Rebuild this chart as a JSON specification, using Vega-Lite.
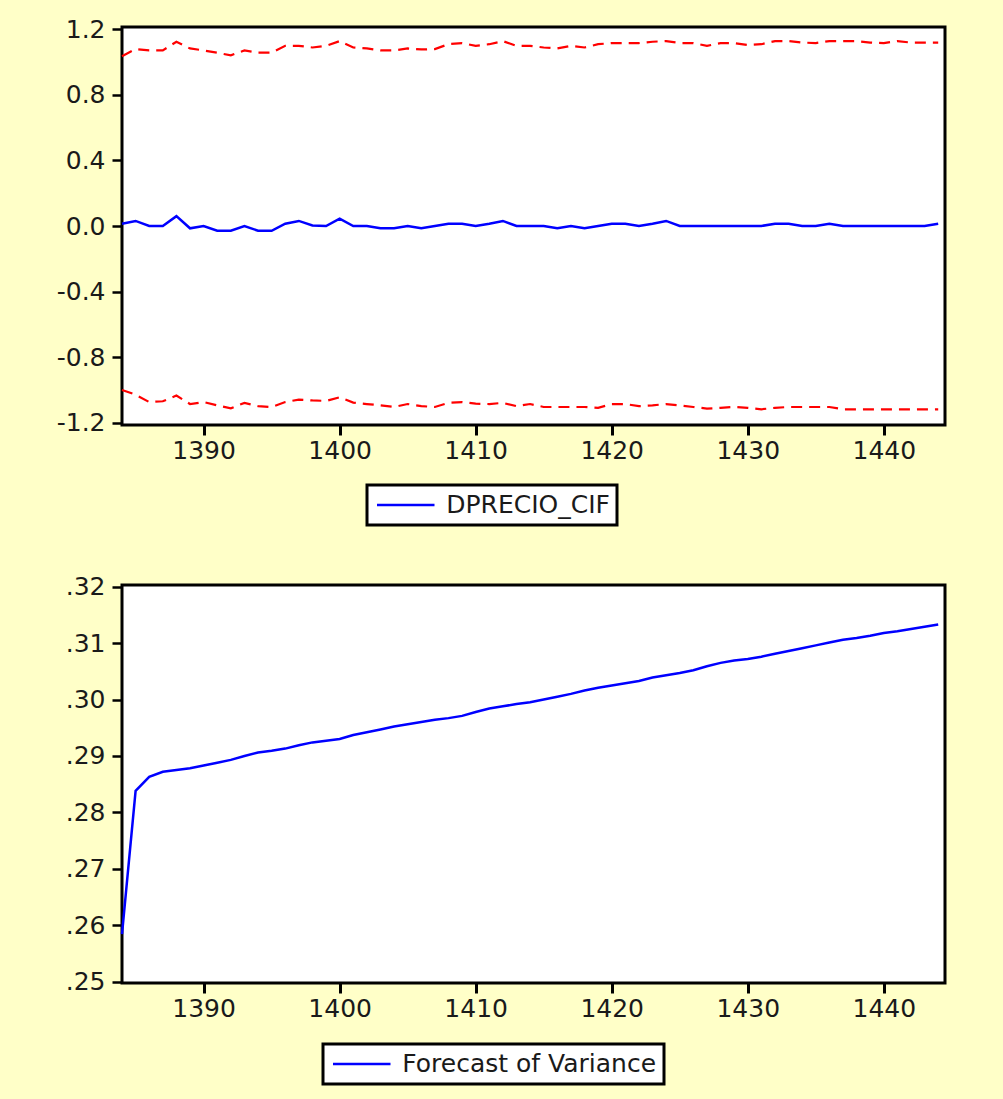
{
  "$schema": "https://vega.github.io/schema/vega-lite/v6.json",
  "background": "#FFFFC8",
  "padding": {"left": 54, "top": 15, "right": 58, "bottom": 13},
  "autosize": {"type": "pad"},
  "datasets": {
    "top": [
      {"year": 1384, "dprecio": 0.014, "upper": 1.037, "lower": -1.001},
      {"year": 1385, "dprecio": 0.031, "upper": 1.080, "lower": -1.030},
      {"year": 1386, "dprecio": 0.0, "upper": 1.072, "lower": -1.075},
      {"year": 1387, "dprecio": 0.0, "upper": 1.072, "lower": -1.070},
      {"year": 1388, "dprecio": 0.060, "upper": 1.125, "lower": -1.035},
      {"year": 1389, "dprecio": -0.014, "upper": 1.084, "lower": -1.087},
      {"year": 1390, "dprecio": 0.0, "upper": 1.072, "lower": -1.075},
      {"year": 1391, "dprecio": -0.029, "upper": 1.058, "lower": -1.095},
      {"year": 1392, "dprecio": -0.029, "upper": 1.042, "lower": -1.113},
      {"year": 1393, "dprecio": 0.0, "upper": 1.072, "lower": -1.080},
      {"year": 1394, "dprecio": -0.029, "upper": 1.058, "lower": -1.100},
      {"year": 1395, "dprecio": -0.029, "upper": 1.058, "lower": -1.105},
      {"year": 1396, "dprecio": 0.014, "upper": 1.100, "lower": -1.075},
      {"year": 1397, "dprecio": 0.031, "upper": 1.100, "lower": -1.060},
      {"year": 1398, "dprecio": 0.003, "upper": 1.090, "lower": -1.065},
      {"year": 1399, "dprecio": 0.0, "upper": 1.100, "lower": -1.068},
      {"year": 1400, "dprecio": 0.045, "upper": 1.129, "lower": -1.046},
      {"year": 1401, "dprecio": 0.0, "upper": 1.090, "lower": -1.078},
      {"year": 1402, "dprecio": 0.0, "upper": 1.084, "lower": -1.087},
      {"year": 1403, "dprecio": -0.014, "upper": 1.072, "lower": -1.095},
      {"year": 1404, "dprecio": -0.014, "upper": 1.072, "lower": -1.105},
      {"year": 1405, "dprecio": 0.0, "upper": 1.084, "lower": -1.087},
      {"year": 1406, "dprecio": -0.014, "upper": 1.078, "lower": -1.100},
      {"year": 1407, "dprecio": 0.0, "upper": 1.080, "lower": -1.105},
      {"year": 1408, "dprecio": 0.014, "upper": 1.110, "lower": -1.080},
      {"year": 1409, "dprecio": 0.014, "upper": 1.117, "lower": -1.075},
      {"year": 1410, "dprecio": 0.0, "upper": 1.100, "lower": -1.085},
      {"year": 1411, "dprecio": 0.014, "upper": 1.110, "lower": -1.087},
      {"year": 1412, "dprecio": 0.031, "upper": 1.129, "lower": -1.080},
      {"year": 1413, "dprecio": 0.0, "upper": 1.100, "lower": -1.100},
      {"year": 1414, "dprecio": 0.0, "upper": 1.100, "lower": -1.087},
      {"year": 1415, "dprecio": 0.0, "upper": 1.090, "lower": -1.105},
      {"year": 1416, "dprecio": -0.014, "upper": 1.084, "lower": -1.105},
      {"year": 1417, "dprecio": 0.0, "upper": 1.100, "lower": -1.105},
      {"year": 1418, "dprecio": -0.014, "upper": 1.090, "lower": -1.105},
      {"year": 1419, "dprecio": 0.0, "upper": 1.110, "lower": -1.110},
      {"year": 1420, "dprecio": 0.014, "upper": 1.117, "lower": -1.087},
      {"year": 1421, "dprecio": 0.014, "upper": 1.117, "lower": -1.087},
      {"year": 1422, "dprecio": 0.0, "upper": 1.117, "lower": -1.100},
      {"year": 1423, "dprecio": 0.014, "upper": 1.125, "lower": -1.095},
      {"year": 1424, "dprecio": 0.031, "upper": 1.129, "lower": -1.087},
      {"year": 1425, "dprecio": 0.0, "upper": 1.117, "lower": -1.095},
      {"year": 1426, "dprecio": 0.0, "upper": 1.117, "lower": -1.105},
      {"year": 1427, "dprecio": 0.0, "upper": 1.100, "lower": -1.115},
      {"year": 1428, "dprecio": 0.0, "upper": 1.117, "lower": -1.110},
      {"year": 1429, "dprecio": 0.0, "upper": 1.117, "lower": -1.105},
      {"year": 1430, "dprecio": 0.0, "upper": 1.105, "lower": -1.110},
      {"year": 1431, "dprecio": 0.0, "upper": 1.110, "lower": -1.119},
      {"year": 1432, "dprecio": 0.014, "upper": 1.129, "lower": -1.110},
      {"year": 1433, "dprecio": 0.014, "upper": 1.129, "lower": -1.105},
      {"year": 1434, "dprecio": 0.0, "upper": 1.120, "lower": -1.105},
      {"year": 1435, "dprecio": 0.0, "upper": 1.117, "lower": -1.105},
      {"year": 1436, "dprecio": 0.014, "upper": 1.129, "lower": -1.105},
      {"year": 1437, "dprecio": 0.0, "upper": 1.129, "lower": -1.119},
      {"year": 1438, "dprecio": 0.0, "upper": 1.129, "lower": -1.119},
      {"year": 1439, "dprecio": 0.0, "upper": 1.120, "lower": -1.119},
      {"year": 1440, "dprecio": 0.0, "upper": 1.117, "lower": -1.119},
      {"year": 1441, "dprecio": 0.0, "upper": 1.129, "lower": -1.119},
      {"year": 1442, "dprecio": 0.0, "upper": 1.120, "lower": -1.119},
      {"year": 1443, "dprecio": 0.0, "upper": 1.120, "lower": -1.119},
      {"year": 1444, "dprecio": 0.014, "upper": 1.120, "lower": -1.119}
    ],
    "variance": [
      {"year": 1384, "variance": 0.2584},
      {"year": 1385, "variance": 0.2838},
      {"year": 1386, "variance": 0.2863},
      {"year": 1387, "variance": 0.2872},
      {"year": 1388, "variance": 0.2875},
      {"year": 1389, "variance": 0.2878},
      {"year": 1390, "variance": 0.2883},
      {"year": 1391, "variance": 0.2888},
      {"year": 1392, "variance": 0.2893},
      {"year": 1393, "variance": 0.2900},
      {"year": 1394, "variance": 0.2906},
      {"year": 1395, "variance": 0.2909},
      {"year": 1396, "variance": 0.2913},
      {"year": 1397, "variance": 0.2919},
      {"year": 1398, "variance": 0.2924},
      {"year": 1399, "variance": 0.2927},
      {"year": 1400, "variance": 0.2930},
      {"year": 1401, "variance": 0.2937},
      {"year": 1402, "variance": 0.2942},
      {"year": 1403, "variance": 0.2947},
      {"year": 1404, "variance": 0.2952},
      {"year": 1405, "variance": 0.2956},
      {"year": 1406, "variance": 0.2960},
      {"year": 1407, "variance": 0.2964},
      {"year": 1408, "variance": 0.2967},
      {"year": 1409, "variance": 0.2971},
      {"year": 1410, "variance": 0.2978},
      {"year": 1411, "variance": 0.2984},
      {"year": 1412, "variance": 0.2988},
      {"year": 1413, "variance": 0.2992},
      {"year": 1414, "variance": 0.2995},
      {"year": 1415, "variance": 0.3000},
      {"year": 1416, "variance": 0.3005},
      {"year": 1417, "variance": 0.3010},
      {"year": 1418, "variance": 0.3016},
      {"year": 1419, "variance": 0.3021},
      {"year": 1420, "variance": 0.3025},
      {"year": 1421, "variance": 0.3029},
      {"year": 1422, "variance": 0.3033},
      {"year": 1423, "variance": 0.3039},
      {"year": 1424, "variance": 0.3043},
      {"year": 1425, "variance": 0.3047},
      {"year": 1426, "variance": 0.3052},
      {"year": 1427, "variance": 0.3059},
      {"year": 1428, "variance": 0.3065},
      {"year": 1429, "variance": 0.3069},
      {"year": 1430, "variance": 0.3072},
      {"year": 1431, "variance": 0.3076},
      {"year": 1432, "variance": 0.3081},
      {"year": 1433, "variance": 0.3086},
      {"year": 1434, "variance": 0.3091},
      {"year": 1435, "variance": 0.3096},
      {"year": 1436, "variance": 0.3101},
      {"year": 1437, "variance": 0.3106},
      {"year": 1438, "variance": 0.3109},
      {"year": 1439, "variance": 0.3113},
      {"year": 1440, "variance": 0.3118},
      {"year": 1441, "variance": 0.3121},
      {"year": 1442, "variance": 0.3125},
      {"year": 1443, "variance": 0.3129},
      {"year": 1444, "variance": 0.3133}
    ]
  },
  "vconcat": [
    {
      "width": 823,
      "height": 398,
      "data": {"name": "top"},
      "encoding": {
        "x": {
          "field": "year",
          "type": "quantitative",
          "title": null,
          "scale": {"domain": [1384, 1444.5], "nice": false, "zero": false},
          "axis": {"values": [1390, 1400, 1410, 1420, 1430, 1440], "format": "d", "tickSize": 10, "tickWidth": 3, "labelPadding": 3, "labelFlush": false, "labelOverlap": false}
        }
      },
      "layer": [
        {
          "mark": {"type": "line", "color": "#FF0000", "strokeWidth": 2.2, "strokeDash": [11, 7]},
          "encoding": {
            "y": {
              "field": "upper",
              "type": "quantitative",
              "title": null,
              "scale": {"domain": [-1.215, 1.215], "nice": false, "zero": false},
              "axis": {"values": [-1.2, -0.8, -0.4, 0, 0.4, 0.8, 1.2], "labelExpr": "(datum.value < -0.001 ? '-' : '') + format(abs(datum.value), '.1f')", "tickSize": 10, "tickWidth": 2.5, "labelPadding": 7, "labelOverlap": false}
            }
          }
        },
        {
          "mark": {"type": "line", "color": "#FF0000", "strokeWidth": 2.2, "strokeDash": [11, 7]},
          "encoding": {
            "y": {"field": "lower", "type": "quantitative", "title": null}
          }
        },
        {
          "mark": {"type": "line", "strokeWidth": 2.5},
          "encoding": {
            "y": {"field": "dprecio", "type": "quantitative", "title": null},
            "color": {
              "datum": "DPRECIO_CIF",
              "type": "nominal",
              "scale": {"range": ["#0000FF"]},
              "legend": {
                "title": null, "orient": "none", "legendX": 245, "legendY": 458,
                "encode": {"legend": {"update": {"strokeWidth": {"value": 3}}}}
              }
            }
          }
        }
      ]
    },
    {
      "width": 823,
      "height": 398,
      "data": {"name": "variance"},
      "mark": {"type": "line", "strokeWidth": 2.5},
      "encoding": {
        "x": {
          "field": "year",
          "type": "quantitative",
          "title": null,
          "scale": {"domain": [1384, 1444.5], "nice": false, "zero": false},
          "axis": {"values": [1390, 1400, 1410, 1420, 1430, 1440], "format": "d", "tickSize": 10, "tickWidth": 3, "labelPadding": 3, "labelFlush": false, "labelOverlap": false}
        },
        "y": {
          "field": "variance",
          "type": "quantitative",
          "title": null,
          "scale": {"domain": [0.24975, 0.3203], "nice": false, "zero": false},
          "axis": {"values": [0.25, 0.26, 0.27, 0.28, 0.29, 0.3, 0.31, 0.32], "labelExpr": "replace(format(datum.value, '.2f'), '0.', '.')", "tickSize": 10, "tickWidth": 2.5, "labelPadding": 7, "labelOverlap": false}
        },
        "color": {
          "datum": "Forecast of Variance",
          "type": "nominal",
          "scale": {"range": ["#0000FF"]},
          "legend": {
            "title": null, "orient": "none", "legendX": 201, "legendY": 459,
            "encode": {"legend": {"update": {"strokeWidth": {"value": 3}}}}
          }
        }
      }
    }
  ],
  "spacing": 160,
  "bounds": "flush",
  "resolve": {"scale": {"color": "independent"}, "legend": {"color": "independent"}},
  "config": {
    "view": {"stroke": "#000000", "strokeWidth": 3, "fill": "#FFFFFF"},
    "axis": {
      "domain": false,
      "grid": false,
      "tickColor": "#000000",
      "labelFont": "DejaVu Sans",
      "labelFontSize": 25,
      "labelColor": "#1a1a1a"
    },
    "legend": {
      "symbolType": "M-2.5,0H2.5",
      "symbolSize": 529,
      "symbolStrokeWidth": 2.5,
      "symbolOffset": 18.75,
      "labelFont": "DejaVu Sans",
      "labelFontSize": 25,
      "labelColor": "#1a1a1a",
      "labelOffset": 27.5,
      "labelLimit": 500,
      "strokeColor": "#000000",
      "fillColor": "#FFFFFF",
      "padding": 7
    }
  }
}
